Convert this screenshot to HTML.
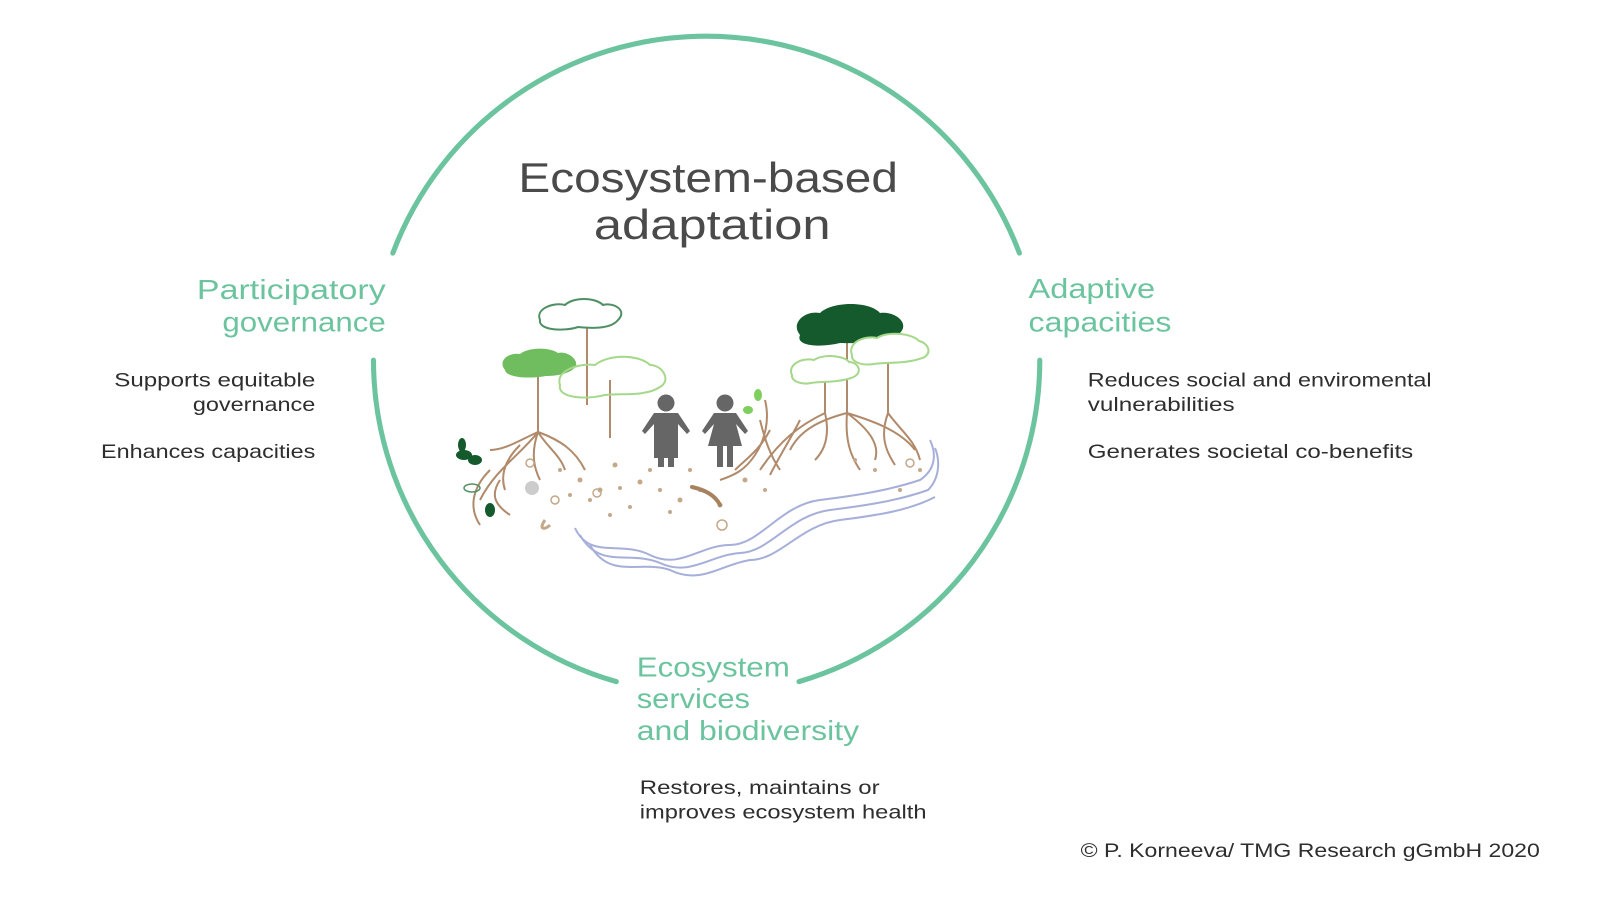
<!DOCTYPE html>
<html><head><meta charset="utf-8"><style>
html,body{margin:0;padding:0;background:#fff;}
svg{display:block;}
text{font-family:"Liberation Sans",sans-serif;}
.g{fill:#6cc49f;font-size:27px;}
.b{fill:#2e2e2e;font-size:19px;}
</style></head><body>
<svg width="1600" height="900" viewBox="0 0 1600 900" xmlns="http://www.w3.org/2000/svg">
<g transform="scale(1.0204)">
<g fill="none" stroke="#6cc49f" stroke-width="5" stroke-linecap="round">
<path d="M385,248 A328,328 0 0 1 999,248"/>
<path d="M366,353 A328,328 0 0 0 604,668"/>
<path d="M1019,353 A328,328 0 0 1 783,668"/>
</g>
<text x="694" y="188" text-anchor="middle" font-size="41" fill="#4a4a4a" textLength="372" lengthAdjust="spacingAndGlyphs">Ecosystem-based</text>
<text x="698" y="234" text-anchor="middle" font-size="41" fill="#4a4a4a" textLength="232" lengthAdjust="spacingAndGlyphs">adaptation</text>

<text class="g" x="378" y="293" text-anchor="end" textLength="185" lengthAdjust="spacingAndGlyphs">Participatory</text>
<text class="g" x="378" y="325" text-anchor="end" textLength="160" lengthAdjust="spacingAndGlyphs">governance</text>
<text class="b" x="309" y="379" text-anchor="end" textLength="197" lengthAdjust="spacingAndGlyphs">Supports equitable</text>
<text class="b" x="309" y="403" text-anchor="end" textLength="120" lengthAdjust="spacingAndGlyphs">governance</text>
<text class="b" x="309" y="449" text-anchor="end" textLength="210" lengthAdjust="spacingAndGlyphs">Enhances capacities</text>

<text class="g" x="1008" y="292" textLength="124" lengthAdjust="spacingAndGlyphs">Adaptive</text>
<text class="g" x="1008" y="325" textLength="140" lengthAdjust="spacingAndGlyphs">capacities</text>
<text class="b" x="1066" y="379" textLength="337" lengthAdjust="spacingAndGlyphs">Reduces social and enviromental</text>
<text class="b" x="1066" y="403" textLength="144" lengthAdjust="spacingAndGlyphs">vulnerabilities</text>
<text class="b" x="1066" y="449" textLength="319" lengthAdjust="spacingAndGlyphs">Generates societal co-benefits</text>

<text class="g" x="624" y="663" textLength="150" lengthAdjust="spacingAndGlyphs">Ecosystem</text>
<text class="g" x="624" y="694" textLength="111" lengthAdjust="spacingAndGlyphs">services</text>
<text class="g" x="624" y="725" textLength="218" lengthAdjust="spacingAndGlyphs">and biodiversity</text>
<text class="b" x="627" y="778" textLength="235" lengthAdjust="spacingAndGlyphs">Restores, maintains or</text>
<text class="b" x="627" y="802" textLength="281" lengthAdjust="spacingAndGlyphs">improves ecosystem health</text>
<text class="b" x="1059" y="840" textLength="450" lengthAdjust="spacingAndGlyphs">© P. Korneeva/ TMG Research gGmbH 2020</text>
</g>

<g>
<g fill="none" stroke="#a6afd9" stroke-width="2">
<path d="M575,528 C590,560 620,540 650,555 C680,570 700,545 730,545 C760,545 780,505 820,500 C860,495 890,490 920,480 C935,470 937,455 930,440"/>
<path d="M580,535 C600,570 630,550 660,563 C690,577 710,555 740,553 C770,552 790,515 830,510 C870,505 900,500 928,490 C940,478 940,460 935,448"/>
<path d="M590,545 C610,580 640,560 670,570 C700,585 720,565 750,560 C780,560 800,525 840,520 C880,515 910,510 935,497"/>
</g>
<g stroke="#b08a6a" stroke-width="2" fill="none">
<line x1="587" y1="317" x2="587" y2="405"/>
<line x1="538" y1="373" x2="538" y2="432"/>
<line x1="610" y1="380" x2="610" y2="438"/>
<line x1="847" y1="333" x2="847" y2="413"/>
<line x1="825" y1="370" x2="825" y2="413"/>
<line x1="888" y1="350" x2="888" y2="413"/>
<path d="M538,432 C520,440 505,450 490,450 M538,432 C560,440 575,450 585,470 M538,432 C530,455 535,470 540,480 M538,432 C520,455 495,470 480,500 M490,470 C470,490 470,510 480,525 M538,432 C548,448 560,455 565,470 M520,445 C505,460 500,475 505,490 M500,480 C490,495 495,505 510,515"/>
<path d="M847,413 C820,420 800,430 790,450 M847,413 C870,420 900,430 915,450 M825,413 C800,425 780,440 760,470 M888,413 C900,430 915,440 920,460 M847,413 C845,440 850,455 860,470 M770,430 C760,450 745,460 735,470 M825,413 C830,435 825,450 815,460 M888,413 C880,435 885,450 895,465 M847,413 C870,430 880,445 875,460 M760,420 C765,440 770,455 780,470 M800,420 C790,440 780,455 770,475"/>
<path d="M765,400 C770,420 765,440 755,455 C745,470 735,475 720,480"/>
</g>
<g fill="#c4a88a">
<circle cx="615" cy="465" r="2.5"/><circle cx="600" cy="490" r="2.5"/><circle cx="640" cy="482" r="2.5"/><circle cx="660" cy="490" r="2"/><circle cx="680" cy="500" r="2.5"/><circle cx="720" cy="505" r="2.5"/><circle cx="580" cy="480" r="2.5"/><circle cx="630" cy="507" r="2"/><circle cx="765" cy="490" r="2"/><circle cx="875" cy="470" r="2"/><circle cx="900" cy="490" r="2"/><circle cx="560" cy="470" r="2"/>
<circle cx="590" cy="500" r="2"/><circle cx="650" cy="470" r="2"/><circle cx="700" cy="490" r="2"/><circle cx="745" cy="480" r="2.5"/><circle cx="610" cy="515" r="2"/><circle cx="670" cy="512" r="2"/><circle cx="690" cy="470" r="2"/><circle cx="620" cy="488" r="2"/><circle cx="855" cy="460" r="2"/><circle cx="920" cy="470" r="2"/><circle cx="570" cy="495" r="2"/>
</g>
<g fill="none" stroke="#c4a88a" stroke-width="1.5">
<circle cx="530" cy="463" r="4"/><circle cx="597" cy="493" r="4"/><circle cx="722" cy="525" r="5"/><circle cx="555" cy="500" r="4"/><circle cx="910" cy="463" r="4"/>
</g>
<circle cx="532" cy="488" r="7" fill="#ccc"/>
<path d="M692,487 C705,490 715,495 720,505" stroke="#a8825e" stroke-width="4" fill="none" stroke-linecap="round"/>
<path d="M550,525 C545,530 538,530 545,520" stroke="#c4a88a" stroke-width="3" fill="none"/>
<path d="M540,320 c-5,-12 15,-18 25,-15 c8,-8 30,-8 38,0 c10,-3 25,5 15,15 c-8,10 -30,8 -40,7 c-15,5 -40,3 -38,-7z" fill="#fff" stroke="#4f8f64" stroke-width="2"/>
<path d="M505,370 c-8,-10 5,-18 15,-16 c8,-7 30,-7 38,-1 c8,-2 20,5 18,13 c-5,8 -20,10 -30,10 c-15,3 -40,2 -41,-6z" fill="#6fbd5e"/>
<path d="M560,385 c-5,-15 20,-22 35,-20 c15,-12 45,-10 55,0 c12,0 22,15 10,22 c-15,10 -40,6 -55,8 c-20,5 -48,3 -45,-10z" fill="none" stroke="#a5d88a" stroke-width="2"/>
<path d="M800,335 c-10,-12 5,-25 20,-22 c12,-12 50,-12 60,0 c15,-2 30,10 20,20 c-15,12 -50,10 -60,10 c-20,5 -45,3 -40,-8z" fill="#145a2c"/>
<path d="M792,375 c-5,-10 10,-18 22,-15 c8,-6 30,-5 35,2 c10,0 15,12 2,16 c-15,5 -30,3 -40,5 c-10,2 -20,-2 -19,-8z" fill="#fff" stroke="#a5d88a" stroke-width="2"/>
<path d="M852,355 c-5,-12 12,-20 25,-17 c10,-7 35,-5 42,3 c10,2 15,15 0,18 c-15,5 -35,3 -45,5 c-12,2 -23,-2 -22,-9z" fill="#fff" stroke="#a5d88a" stroke-width="2"/>
<g fill="#155a2c"><ellipse cx="464" cy="455" rx="8" ry="5"/><ellipse cx="475" cy="460" rx="7" ry="5"/><ellipse cx="462" cy="445" rx="4" ry="7"/><ellipse cx="490" cy="510" rx="5" ry="7"/></g>
<ellipse cx="472" cy="488" rx="8" ry="4" fill="none" stroke="#4f8f64" stroke-width="1.5"/>
<ellipse cx="758" cy="395" rx="4" ry="6" fill="#7fcf5e"/><ellipse cx="748" cy="410" rx="5" ry="4" fill="#7fcf5e"/>
<g fill="#666">
<circle cx="666" cy="403" r="8.5"/>
<path d="M654,413 h24 l12,18 -3,3 -9,-10 v34 h-24 v-34 l-9,10 -3,-3z"/>
<rect x="658" y="445" width="6" height="22"/><rect x="668" y="445" width="6" height="22"/>
<circle cx="725" cy="403" r="8.5"/>
<path d="M714,413 h22 l12,18 -3,3 -9,-10 l6,22 h-34 l6,-22 -9,10 -3,-3z"/>
<rect x="717" y="445" width="6" height="22"/><rect x="727" y="445" width="6" height="22"/>
</g>
</g>
</svg>
</body></html>
